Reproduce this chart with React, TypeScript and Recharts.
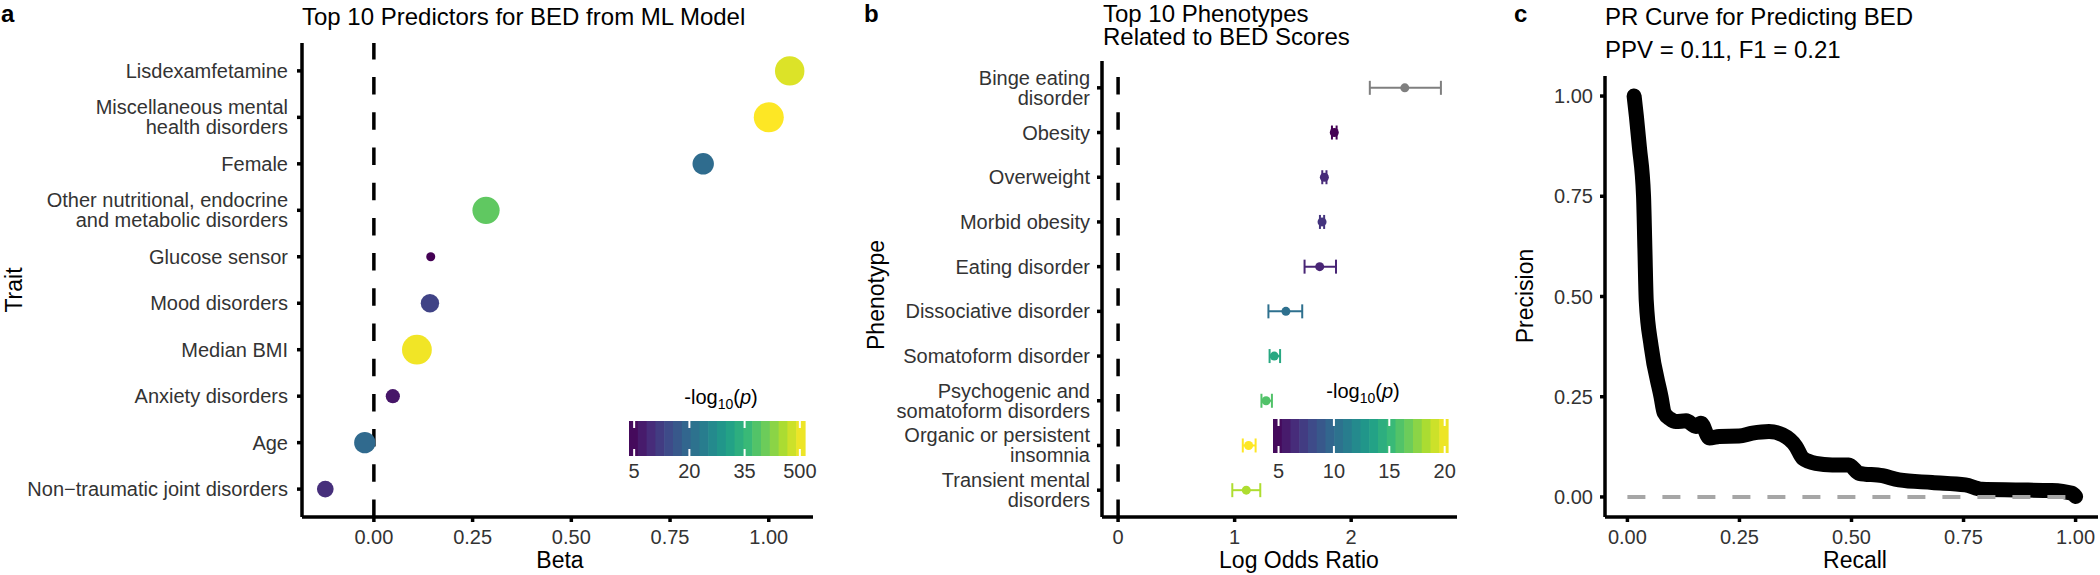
import {
  ErrorBar,
  Line,
  LineChart,
  ReferenceLine,
  Scatter,
  ScatterChart,
  XAxis,
  YAxis,
} from "recharts";

const FONT = '"Liberation Sans", Arial, Helvetica, sans-serif';
const TICK_FILL = "#333";

// ---- panel a: ML model predictors ----
const traits = [
  "Lisdexamfetamine",
  "Miscellaneous mental\nhealth disorders",
  "Female",
  "Other nutritional, endocrine\nand metabolic disorders",
  "Glucose sensor",
  "Mood disorders",
  "Median BMI",
  "Anxiety disorders",
  "Age",
  "Non\u2212traumatic joint disorders",
];
const traitBeta = [1.053, 1.0, 0.834, 0.284, 0.144, 0.142, 0.109, 0.048, -0.023, -0.123];
const traitNegLogP = [49, 51.4, 20.3, 39.5, 3.6, 13.2, 50.5, 6.5, 20, 10];
const betaTicks = [0, 0.25, 0.5, 0.75, 1];
const legendABreaks = [5, 20, 35, 50];
const legendALabels = ["5", "20", "35", "500"];

// ---- panel b: phenotypes ----
const phenotypes = [
  "Binge eating\ndisorder",
  "Obesity",
  "Overweight",
  "Morbid obesity",
  "Eating disorder",
  "Dissociative disorder",
  "Somatoform disorder",
  "Psychogenic and\nsomatoform disorders",
  "Organic or persistent\ninsomnia",
  "Transient mental\ndisorders",
];
const logOR = [2.46, 1.855, 1.77, 1.75, 1.73, 1.44, 1.34, 1.27, 1.12, 1.1];
const logORLow = [2.16, 1.835, 1.752, 1.732, 1.6, 1.29, 1.3, 1.23, 1.07, 0.98];
const logORHigh = [2.77, 1.875, 1.788, 1.768, 1.87, 1.58, 1.39, 1.32, 1.18, 1.22];
const phenoNegLogP: (number | null)[] = [null, 4.5, 6.4, 6.9, 6.1, 10.3, 14, 15.9, 20.3, 18.4];
const orTicks = [0, 1, 2];
const legendBBreaks = [5, 10, 15, 20];
const legendBLabels = ["5", "10", "15", "20"];

// ---- panel c: PR curve ----
const recall = [
  0.015, 0.02, 0.027, 0.036, 0.039, 0.042, 0.053, 0.075, 0.082, 0.095, 0.108, 0.131,
  0.153, 0.164, 0.183, 0.205, 0.249, 0.279, 0.316, 0.346, 0.376, 0.391, 0.42, 0.457,
  0.494, 0.517, 0.569, 0.606, 0.68, 0.754, 0.791, 0.866, 0.947, 0.992, 1.0,
];
const precision = [
  1.0, 0.95, 0.87, 0.75, 0.62, 0.49, 0.376, 0.25, 0.21, 0.195, 0.188, 0.19, 0.176,
  0.184, 0.147, 0.151, 0.152, 0.159, 0.163, 0.155, 0.126, 0.097, 0.084, 0.08, 0.08,
  0.059, 0.053, 0.0425, 0.036, 0.03, 0.019, 0.0175, 0.016, 0.009, 0.001,
];
const baselineRecall = [0, 1];
const baselinePrecision = [0, 0];
const unitTicks = [0, 0.25, 0.5, 0.75, 1];

// viridis key colours
const VIRIDIS = [
  "#440154", "#482878", "#3e4a89", "#31688e", "#26828e",
  "#1f9e89", "#35b779", "#6dcd59", "#b4de2c", "#fde725",
];

function viridis(t: number): string {
  const c = Math.max(0, Math.min(1, t)) * (VIRIDIS.length - 1);
  const i = Math.min(Math.floor(c), VIRIDIS.length - 2);
  const f = c - i;
  const a = VIRIDIS[i];
  const b = VIRIDIS[i + 1];
  const ch = (h: string, k: number) => parseInt(h.slice(1 + k * 2, 3 + k * 2), 16);
  const mix = [0, 1, 2].map((k) => Math.round(ch(a, k) + (ch(b, k) - ch(a, k)) * f));
  return `rgb(${mix[0]},${mix[1]},${mix[2]})`;
}

const aMin = Math.min(...traitNegLogP);
const aMax = Math.max(...traitNegLogP);
const bVals = phenoNegLogP.filter((v): v is number => v != null);
const bMin = Math.min(...bVals);
const bMax = Math.max(...bVals);

const dataA = traits.map((t, i) => {
  const s = (traitNegLogP[i] - aMin) / (aMax - aMin);
  return {
    trait: t,
    pos: traits.length - i,
    beta: traitBeta[i],
    color: viridis(s),
    r: 4.5 + 10.5 * Math.sqrt(s),
  };
});

const dataB = phenotypes.map((p, i) => {
  const v = phenoNegLogP[i];
  return {
    pheno: p,
    pos: phenotypes.length - i,
    or: logOR[i],
    err: [logOR[i] - logORLow[i], logORHigh[i] - logOR[i]],
    color: v == null ? "#7f7f7f" : viridis((v - bMin) / (bMax - bMin)),
  };
});

const prData = recall.map((r, i) => ({ recall: r, precision: precision[i] }));
const baseData = baselineRecall.map((r, i) => ({ recall: r, precision: baselinePrecision[i] }));

const axisLine = { stroke: "#000", strokeWidth: 3.5 };
const tickLine = { stroke: "#000", strokeWidth: 3.5 };
const tickStyle = { fontSize: 20, fill: TICK_FILL, fontFamily: FONT };

function categoryTick(labels: string[]) {
  return (props: any) => {
    const { x, y, payload } = props;
    const idx = labels.length - payload.value;
    const lines = (labels[idx] ?? "").split("\n");
    const lh = 20;
    const first = y + 7 - ((lines.length - 1) * lh) / 2;
    return (
      <text x={x} y={first} textAnchor="end" fontSize={20} fill={TICK_FILL} fontFamily={FONT}>
        {lines.map((l, i) => (
          <tspan key={i} x={x} y={first + i * lh}>
            {l}
          </tspan>
        ))}
      </text>
    );
  };
}

function ColorBar(props: {
  x: number;
  y: number;
  w: number;
  h: number;
  min: number;
  max: number;
  breaks: number[];
  labels: string[];
  labelY: number;
}) {
  const { x, y, w, h, min, max, breaks, labels, labelY } = props;
  const n = 20;
  const stripes = Array.from({ length: n }, (_, i) => i);
  return (
    <g>
      {stripes.map((i) => (
        <rect
          key={i}
          x={x + (i * w) / n}
          y={y}
          width={w / n + 0.6}
          height={h}
          fill={viridis((i + 0.5) / n)}
        />
      ))}
      {breaks.map((b, i) => {
        const px = x + ((b - min) / (max - min)) * w;
        return (
          <g key={i}>
            <line x1={px} x2={px} y1={y} y2={y + 7} stroke="#fff" strokeWidth={2} />
            <line x1={px} x2={px} y1={y + h - 7} y2={y + h} stroke="#fff" strokeWidth={2} />
            <text x={px} y={labelY} textAnchor="middle" fontSize={20} fill={TICK_FILL} fontFamily={FONT}>
              {labels[i]}
            </text>
          </g>
        );
      })}
    </g>
  );
}

function LegendTitle({ cx, y }: { cx: number; y: number }) {
  return (
    <text x={cx} y={y} textAnchor="middle" fontSize={20} fill="#000" fontFamily={FONT}>
      -log
      <tspan fontSize={14} dy={5}>
        10
      </tspan>
      <tspan dy={-5}>(</tspan>
      <tspan fontStyle="italic">p</tspan>)
    </text>
  );
}

export default function App() {
  return (
    <div
      style={{
        position: "absolute",
        left: 0,
        top: 0,
        width: 2100,
        height: 575,
        background: "#fff",
        overflow: "hidden",
        fontFamily: FONT,
      }}
    >
      {/* panel a */}
      <div style={{ position: "absolute", left: 0, top: 0 }}>
        <ScatterChart width={830} height={575} margin={{ top: 43, right: 17, bottom: 0, left: 0 }}>
          <XAxis
            type="number"
            dataKey="beta"
            domain={[-0.182, 1.112]}
            ticks={betaTicks}
            tickFormatter={(v: number) => v.toFixed(2)}
            allowDataOverflow
            height={58}
            axisLine={axisLine}
            tickLine={tickLine}
            tickSize={5}
            tickMargin={8}
            tick={tickStyle}
            interval={0}
          />
          <YAxis
            type="number"
            dataKey="pos"
            domain={[0.4, 10.6]}
            ticks={[1, 2, 3, 4, 5, 6, 7, 8, 9, 10]}
            allowDataOverflow
            width={302}
            axisLine={axisLine}
            tickLine={tickLine}
            tickSize={5}
            tickMargin={9}
            tick={categoryTick(traits)}
            interval={0}
          />
          <ReferenceLine x={0} stroke="#000" strokeWidth={3.5} strokeDasharray="17.5 17.7" />
          <Scatter
            data={dataA}
            isAnimationActive={false}
            shape={(p: any) => <circle cx={p.cx} cy={p.cy} r={p.payload.r} fill={p.payload.color} />}
          />
        </ScatterChart>
      </div>

      {/* panel b */}
      <div style={{ position: "absolute", left: 830, top: 0 }}>
        <ScatterChart width={640} height={575} margin={{ top: 61, right: 13, bottom: 0, left: 0 }}>
          <XAxis
            type="number"
            dataKey="or"
            domain={[-0.138, 2.908]}
            ticks={orTicks}
            allowDataOverflow
            height={58}
            axisLine={axisLine}
            tickLine={tickLine}
            tickSize={5}
            tickMargin={8}
            tick={tickStyle}
            interval={0}
          />
          <YAxis
            type="number"
            dataKey="pos"
            domain={[0.4, 10.6]}
            ticks={[1, 2, 3, 4, 5, 6, 7, 8, 9, 10]}
            allowDataOverflow
            width={272}
            axisLine={axisLine}
            tickLine={tickLine}
            tickSize={5}
            tickMargin={7}
            tick={categoryTick(phenotypes)}
            interval={0}
          />
          <ReferenceLine x={0} stroke="#000" strokeWidth={3.5} strokeDasharray="17.5 17.7" />
          {dataB.map((d) => (
            <Scatter
              key={d.pheno}
              data={[d]}
              isAnimationActive={false}
              shape={(p: any) => <circle cx={p.cx} cy={p.cy} r={4.5} fill={d.color} />}
            >
              <ErrorBar
                dataKey="err"
                direction="x"
                width={7}
                strokeWidth={2}
                stroke={d.color}
                isAnimationActive={false}
              />
            </Scatter>
          ))}
        </ScatterChart>
      </div>

      {/* panel c */}
      <div style={{ position: "absolute", left: 1470, top: 0 }}>
        <LineChart width={630} height={575} margin={{ top: 76, right: 2, bottom: 0, left: 0 }}>
          <XAxis
            type="number"
            dataKey="recall"
            domain={[-0.05, 1.05]}
            ticks={unitTicks}
            tickFormatter={(v: number) => v.toFixed(2)}
            allowDataOverflow
            height={58}
            axisLine={axisLine}
            tickLine={tickLine}
            tickSize={5}
            tickMargin={8}
            tick={tickStyle}
            interval={0}
          />
          <YAxis
            type="number"
            dataKey="precision"
            domain={[-0.05, 1.05]}
            ticks={unitTicks}
            tickFormatter={(v: number) => v.toFixed(2)}
            allowDataOverflow
            width={135}
            axisLine={axisLine}
            tickLine={tickLine}
            tickSize={5}
            tickMargin={7}
            tick={tickStyle}
            interval={0}
          />
          <Line
            data={prData}
            dataKey="precision"
            type="monotoneX"
            stroke="#000"
            strokeWidth={15}
            strokeLinecap="round"
            strokeLinejoin="round"
            dot={false}
            activeDot={false}
            isAnimationActive={false}
          />
          <Line
            data={baseData}
            dataKey="precision"
            type="linear"
            stroke="#a6a6a6"
            strokeWidth={4}
            strokeDasharray="18 17"
            dot={false}
            activeDot={false}
            isAnimationActive={false}
          />
        </LineChart>
      </div>

      {/* titles, axis titles and colour legends */}
      <svg
        width={2100}
        height={575}
        style={{ position: "absolute", left: 0, top: 0, pointerEvents: "none" }}
        fontFamily={FONT}
      >
        <text x={1} y={22} fontSize={24} fontWeight="bold">a</text>
        <text x={864} y={22} fontSize={24} fontWeight="bold">b</text>
        <text x={1514} y={22} fontSize={24} fontWeight="bold">c</text>

        <text x={302} y={25} fontSize={24}>Top 10 Predictors for BED from ML Model</text>
        <text x={1103} y={22} fontSize={24}>Top 10 Phenotypes</text>
        <text x={1103} y={45} fontSize={24}>Related to BED Scores</text>
        <text x={1605} y={25} fontSize={24}>PR Curve for Predicting BED</text>
        <text x={1605} y={58} fontSize={24}>PPV = 0.11, F1 = 0.21</text>

        <text x={560} y={568} fontSize={23} textAnchor="middle">Beta</text>
        <text x={1299} y={568} fontSize={23} textAnchor="middle">Log Odds Ratio</text>
        <text x={1855} y={568} fontSize={23} textAnchor="middle">Recall</text>
        <text transform="translate(22,290) rotate(-90)" fontSize={23} textAnchor="middle">Trait</text>
        <text transform="translate(884,295) rotate(-90)" fontSize={23} textAnchor="middle">Phenotype</text>
        <text transform="translate(1533,296) rotate(-90)" fontSize={23} textAnchor="middle">Precision</text>

        <LegendTitle cx={721} y={404} />
        <ColorBar
          x={629}
          y={421}
          w={176}
          h={35}
          min={aMin}
          max={aMax}
          breaks={legendABreaks}
          labels={legendALabels}
          labelY={478}
        />
        <LegendTitle cx={1363} y={398} />
        <ColorBar
          x={1273}
          y={419}
          w={175}
          h={34}
          min={bMin}
          max={bMax}
          breaks={legendBBreaks}
          labels={legendBLabels}
          labelY={478}
        />
      </svg>
    </div>
  );
}
